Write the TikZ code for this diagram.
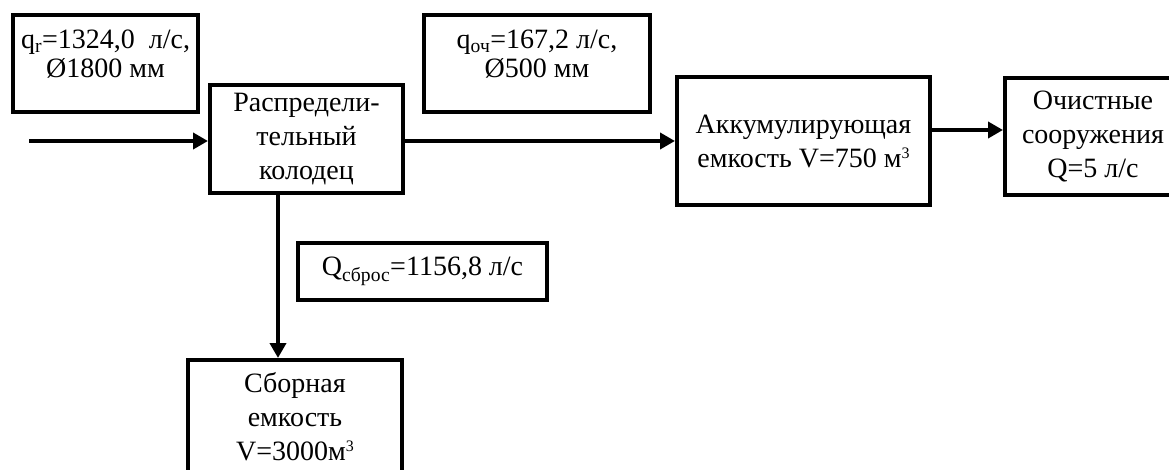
\documentclass[tikz,border=0pt]{standalone}
\usepackage{fontspec}
\setmainfont{Liberation Serif}
\usetikzlibrary{arrows.meta}

\newcommand{\cub}{\raisebox{9pt}{\fontsize{16}{16}\selectfont 3}} %立方の3

\begin{document}
\begin{tikzpicture}[x= 1pt, y= -1pt,
	box/.style= {draw, line width= 4pt, inner sep= 0pt, align= center, font= \fontsize{28}{34}\selectfont},
	txt/.style= {inner sep= 0pt, align= center, font= \fontsize{28}{34}\selectfont},
	arr/.style= {line width= 4pt, -{Triangle[length= 15pt, width= 16pt]}}]
%	座標はピクセルに合わせた
	\useasboundingbox (0, 0) rectangle (1169, 470); %画像の大きさ
	\node[box, minimum width= 185, minimum height= 97] (qr) at (105.5, 63.5) {}; %流入の枠
	\node[txt, anchor= north] (qrtxt) at ([yshift= -17pt]qr.north) {q\textsubscript{r}=1324,0~~л/с,\\[-5pt]Ø1800 мм};
	\node[box, minimum width= 226, minimum height= 97] (qoch) at (537, 63.5) {}; %処理水の枠
	\node[txt, anchor= north] (qochtxt) at ([yshift= -17pt]qoch.north) {q\textsubscript{оч}=167,2 л/с,\\[-5pt]Ø500 мм};
	\node[box, minimum width= 193, minimum height= 108] (rasp) at (306.5, 139) {Распредели-\\тельный\\колодец}; %分配井
	\node[box, minimum width= 253, minimum height= 128] (akk) at (803.5, 141) {Аккумулирующая\\емкость V=750 м\cub}; %貯留槽
	\node[box, minimum width= 176, minimum height= 117] (och) at (1093, 136.5) {Очистные\\сооружения\\Q=5 л/с}; %処理施設(右は切れる)
	\node[box, minimum width= 249, minimum height= 57] (sbros) at (422.5, 271.5) {Q\textsubscript{сброс}=1156,8 л/с}; %放流量
	\node[box, minimum width= 214, minimum height= 114] (sbor) at (295, 417) {Сборная\\емкость\\V=3000м\cub}; %集水槽(下は切れる)
	\coordinate (in) at (29, 141); %流入の始点
	\coordinate (drop) at ([xshift= -28.5pt]rasp.south); %下向きの始点
	\draw[arr] (in)-- (in -| rasp.west);
	\draw[arr] (rasp.east |- akk.west)-- (akk.west);
	\draw[arr] ([yshift= 11pt]akk.east)-- ([yshift= 11pt]akk.east -| och.west);
	\draw[arr] (drop)-- (drop |- sbor.north);
\end{tikzpicture}
\end{document}
